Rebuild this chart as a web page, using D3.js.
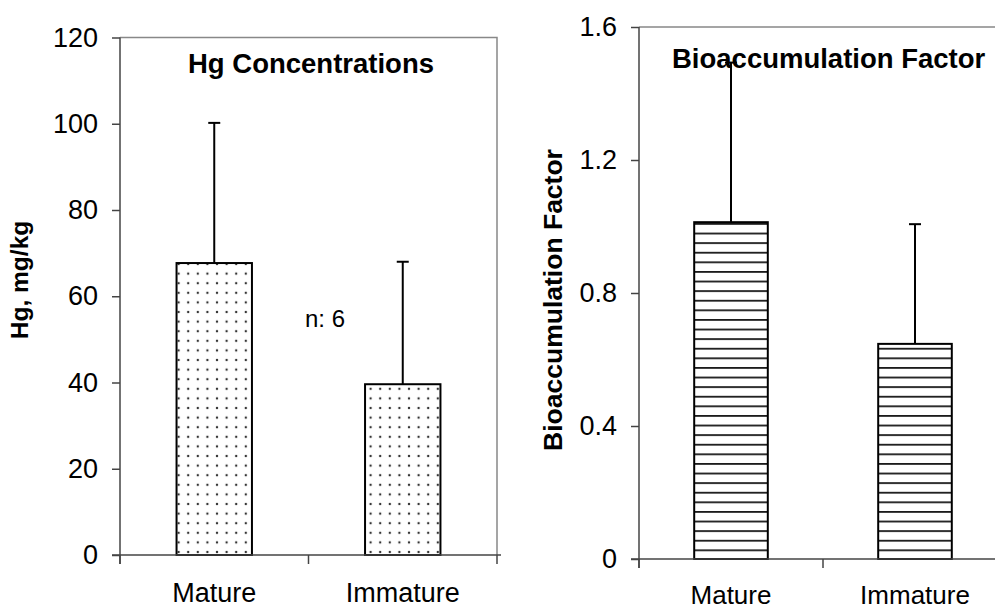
<!DOCTYPE html>
<html>
<head>
<meta charset="utf-8">
<script src="https://cdn.jsdelivr.net/npm/d3@7"></script>
<style>
  body { margin: 0; background: #fff; }
  svg text { font-family: Arial, "Liberation Sans", sans-serif; fill: #000; }
</style>
</head>
<body>
<div id="chart"></div>
<script>
// data
var categories = ["Mature", "Immature"];
var hgMeans = [67.7, 39.6];
var hgSd = [32.5, 28.4];
var hgTicks = [0, 20, 40, 60, 80, 100, 120];
var bafMeans = [1.013, 0.647];
var bafSd = [0.48, 0.36];
var bafTicks = [0, 0.4, 0.8, 1.2, 1.6];

var width = 995;
var height = 610;

var svg = d3.select("#chart")
  .append("svg")
  .attr("width", width)
  .attr("height", height);

var defs = svg.append("defs");

// dotted fill for the Hg bars
var dots = defs.append("pattern")
  .attr("id", "dots")
  .attr("patternUnits", "userSpaceOnUse")
  .attr("width", 9.6)
  .attr("height", 9.6)
  .attr("x", 1)
  .attr("y", 0);
dots.append("rect").attr("width", 9.6).attr("height", 9.6).attr("fill", "#fff");
dots.append("circle").attr("cx", 4.8).attr("cy", 4.8).attr("r", 1.2).attr("fill", "#333");

// horizontal stripes for the BAF bars
var stripes = defs.append("pattern")
  .attr("id", "stripes")
  .attr("patternUnits", "userSpaceOnUse")
  .attr("width", 10)
  .attr("height", 9.6)
  .attr("y", 559);
stripes.append("rect").attr("width", 10).attr("height", 9.6).attr("fill", "#fff");
stripes.append("line")
  .attr("x1", 0).attr("x2", 10)
  .attr("y1", 0.9).attr("y2", 0.9)
  .attr("stroke", "#1a1a1a")
  .attr("stroke-width", 1.8);

function drawPanel(opt) {
  var g = svg.append("g");

  var x = d3.scaleBand()
    .domain(opt.cats)
    .range([opt.left, opt.right]);
  var y = d3.scaleLinear()
    .domain(opt.domain)
    .range([opt.bottom, opt.top]);

  // plot frame (top and right edges)
  g.append("path")
    .attr("d", "M" + opt.left + "," + opt.top + "H" + opt.right + "V" + opt.bottom)
    .attr("fill", "none")
    .attr("stroke", "#888")
    .attr("stroke-width", 1.5);

  // y axis
  var yAxis = d3.axisLeft(y)
    .tickValues(opt.ticks)
    .tickFormat(opt.fmt)
    .tickSize(8)
    .tickPadding(14);
  var ya = g.append("g")
    .attr("transform", "translate(" + opt.left + ",0)")
    .call(yAxis);
  ya.select(".domain").remove();
  ya.selectAll(".tick line").attr("stroke", "#444").attr("stroke-width", 1.5);
  ya.selectAll(".tick text")
    .attr("font-size", 27)
    .attr("fill", "#000");

  // x axis: ticks between the categories
  var bounds = [opt.left, opt.left + x.bandwidth(), opt.left + 2 * x.bandwidth()];
  g.selectAll(".xtick")
    .data(bounds)
    .enter()
    .append("line")
    .attr("x1", function(d) { return d; })
    .attr("x2", function(d) { return d; })
    .attr("y1", opt.bottom)
    .attr("y2", opt.bottom + 9)
    .attr("stroke", "#444")
    .attr("stroke-width", 1.5);

  g.selectAll(".xlab")
    .data(opt.cats)
    .enter()
    .append("text")
    .attr("x", function(d) { return x(d) + x.bandwidth() / 2; })
    .attr("y", opt.labelY)
    .attr("text-anchor", "middle")
    .attr("font-size", opt.labelSize)
    .text(function(d) { return d; });

  // bars
  var bw = x.bandwidth() * 0.4;
  var rows = opt.cats.map(function(c, i) {
    return { cat: c, mean: opt.means[i], sd: opt.sd[i] };
  });

  g.selectAll(".bar")
    .data(rows)
    .enter()
    .append("rect")
    .attr("x", function(d) { return x(d.cat) + (x.bandwidth() - bw) / 2; })
    .attr("y", function(d) { return y(d.mean); })
    .attr("width", bw)
    .attr("height", function(d) { return y(0) - y(d.mean); })
    .attr("fill", opt.fill)
    .attr("stroke", "#000")
    .attr("stroke-width", 2);

  // upper error bars
  var errs = g.selectAll(".err")
    .data(rows)
    .enter()
    .append("g");
  errs.append("line")
    .attr("x1", function(d) { return x(d.cat) + x.bandwidth() / 2; })
    .attr("x2", function(d) { return x(d.cat) + x.bandwidth() / 2; })
    .attr("y1", function(d) { return y(d.mean); })
    .attr("y2", function(d) { return y(d.mean + d.sd); })
    .attr("stroke", "#000")
    .attr("stroke-width", 2);
  errs.append("line")
    .attr("x1", function(d) { return x(d.cat) + x.bandwidth() / 2 - 6; })
    .attr("x2", function(d) { return x(d.cat) + x.bandwidth() / 2 + 6; })
    .attr("y1", function(d) { return y(d.mean + d.sd); })
    .attr("y2", function(d) { return y(d.mean + d.sd); })
    .attr("stroke", "#000")
    .attr("stroke-width", 2);

  // axis lines drawn last so they sit on top
  g.append("line")
    .attr("x1", opt.left).attr("x2", opt.left)
    .attr("y1", opt.top).attr("y2", opt.bottom + 9)
    .attr("stroke", "#444").attr("stroke-width", 1.5);
  g.append("line")
    .attr("x1", opt.left - 8).attr("x2", opt.right + 4)
    .attr("y1", opt.bottom).attr("y2", opt.bottom)
    .attr("stroke", "#444").attr("stroke-width", 1.5);

  // chart title inside the plot
  g.append("text")
    .attr("x", opt.titleX)
    .attr("y", opt.titleY)
    .attr("text-anchor", opt.titleAnchor)
    .attr("font-size", 27.5)
    .attr("font-weight", "bold")
    .text(opt.title);

  // y axis title
  g.append("text")
    .attr("transform", "translate(" + opt.yTitleX + "," + opt.yTitleY + ")rotate(-90)")
    .attr("text-anchor", "middle")
    .attr("font-size", opt.yTitleSize)
    .attr("font-weight", "bold")
    .text(opt.yTitle);

  return { x: x, y: y, g: g };
}

var left = drawPanel({
  cats: categories,
  means: hgMeans,
  sd: hgSd,
  ticks: hgTicks,
  domain: [0, 120],
  fmt: d3.format("d"),
  left: 120, right: 497, top: 37.5, bottom: 555,
  labelY: 602, labelSize: 27,
  fill: "url(#dots)",
  title: "Hg Concentrations",
  titleX: 311, titleY: 73, titleAnchor: "middle",
  yTitle: "Hg, mg/kg", yTitleSize: 24.5,
  yTitleX: 28, yTitleY: 280
});

// sample size note
left.g.append("text")
  .attr("x", 325)
  .attr("y", 327)
  .attr("text-anchor", "middle")
  .attr("font-size", 24)
  .text("n: 6");

drawPanel({
  cats: categories,
  means: bafMeans,
  sd: bafSd,
  ticks: bafTicks,
  domain: [0, 1.6],
  fmt: function(d) { return d === 0 ? "0" : d3.format(".1f")(d); },
  left: 639, right: 1007, top: 27, bottom: 559,
  labelY: 604, labelSize: 26,
  fill: "url(#stripes)",
  title: "Bioaccumulation Factor",
  titleX: 672, titleY: 68, titleAnchor: "start",
  yTitle: "Bioaccumulation Factor", yTitleSize: 26.5,
  yTitleX: 562, yTitleY: 300
});
</script>
</body>
</html>
